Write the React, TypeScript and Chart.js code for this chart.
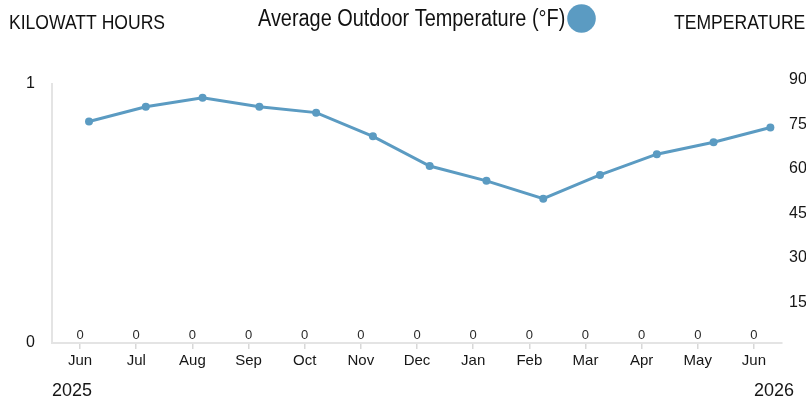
import React, { useEffect, useRef } from "react";
import { Chart, registerables } from "chart.js";

Chart.register(...registerables);

const categories = ["Jun", "Jul", "Aug", "Sep", "Oct", "Nov", "Dec", "Jan", "Feb", "Mar", "Apr", "May", "Jun"];
const kwhValues = [0, 0, 0, 0, 0, 0, 0, 0, 0, 0, 0, 0, 0];
const avgTempF = [76, 81, 84, 81, 79, 71, 61, 56, 50, 58, 65, 69, 74];
const kwhTicks = [0, 1];
const tempTicks = [15, 30, 45, 60, 75, 90];
const yearLabels = ["2025", "2026"];
const leftTitle = "KILOWATT HOURS";
const rightTitle = "TEMPERATURE";
const legendLabel = "Average Outdoor Temperature (°F)";

const LINE_COLOR = "rgb(91,155,194)";
const TEXT_COLOR = "#161616";
const AXIS_COLOR = "#e4e4e4";
const FONT = '"Liberation Sans", Arial, sans-serif';

function drawScaled(ctx: CanvasRenderingContext2D, text: string, x: number, y: number, size: number, sx: number) {
  ctx.save();
  ctx.translate(x, y);
  ctx.scale(sx, 1);
  ctx.font = `${size}px ${FONT}`;
  ctx.fillStyle = "#111";
  ctx.textAlign = "left";
  ctx.textBaseline = "alphabetic";
  ctx.fillText(text, 0, 0);
  ctx.restore();
}

const extrasPlugin = {
  id: "extras",
  afterDraw(chart: any) {
    const ctx: CanvasRenderingContext2D = chart.ctx;
    const area = chart.chartArea;
    ctx.save();
    // value labels above the (zero) bars
    const meta = chart.getDatasetMeta(0);
    ctx.font = `13px ${FONT}`;
    ctx.fillStyle = "#2a2a2a";
    ctx.textAlign = "center";
    ctx.textBaseline = "middle";
    meta.data.forEach((el: any, i: number) => {
      ctx.fillText(String(kwhValues[i]), el.x, el.y - 7.5);
    });
    // year labels
    ctx.font = `18px ${FONT}`;
    ctx.fillStyle = TEXT_COLOR;
    ctx.textAlign = "left";
    ctx.fillText(yearLabels[0], area.left, 391);
    ctx.textAlign = "right";
    ctx.fillText(yearLabels[1], area.right + 12, 391);
    ctx.restore();

    // header titles
    drawScaled(ctx, leftTitle, 9, 29, 19.5, 0.9);
    drawScaled(ctx, rightTitle, 674, 29, 19.5, 0.9);
    drawScaled(ctx, legendLabel, 258, 26, 23, 0.865);
    ctx.save();
    ctx.beginPath();
    ctx.arc(581.5, 18.5, 14.3, 0, Math.PI * 2);
    ctx.fillStyle = LINE_COLOR;
    ctx.fill();
    ctx.restore();
  },
};

export default function App() {
  const ref = useRef<HTMLCanvasElement | null>(null);

  useEffect(() => {
    if (!ref.current) return;
    const chart = new Chart(ref.current, {
      type: "bar",
      data: {
        labels: categories,
        datasets: [
          {
            type: "bar",
            label: "Kilowatt Hours",
            data: kwhValues,
            xAxisID: "x",
            yAxisID: "y",
            grouped: false,
            backgroundColor: LINE_COLOR,
          } as any,
          {
            type: "line",
            label: legendLabel,
            data: avgTempF.map((t, i) => ({ x: i, y: t })),
            xAxisID: "x2",
            yAxisID: "y2",
            borderColor: LINE_COLOR,
            backgroundColor: LINE_COLOR,
            borderWidth: 3,
            pointRadius: 4,
            pointBorderWidth: 0,
            tension: 0,
            fill: false,
          } as any,
        ],
      },
      options: {
        responsive: false,
        animation: false,
        devicePixelRatio: 1,
        events: [],
        layout: { padding: { top: 84, left: 0, right: 0, bottom: 0 } },
        plugins: {
          legend: { display: false },
          tooltip: { enabled: false },
          title: { display: false },
        },
        scales: {
          x: {
            type: "category",
            offset: true,
            grid: {
              display: true,
              drawOnChartArea: false,
              drawTicks: true,
              tickLength: 6,
              color: "#d8d8d8",
              lineWidth: 1.5,
              offset: false,
            },
            border: { display: true, color: AXIS_COLOR, width: 2 },
            ticks: {
              color: TEXT_COLOR,
              font: { size: 15, family: FONT },
              padding: 3,
              maxRotation: 0,
              autoSkip: false,
            },
            afterFit: (s: any) => {
              s.height = 59;
            },
          },
          x2: {
            type: "linear",
            display: false,
            offset: false,
            bounds: "data",
            min: -0.652,
            max: 12.205,
          },
          y: {
            type: "linear",
            position: "left",
            min: 0,
            max: 1,
            grid: { display: false, drawTicks: false },
            border: { display: true, color: AXIS_COLOR, width: 2 },
            ticks: {
              color: TEXT_COLOR,
              font: { size: 16, family: FONT },
              padding: 17,
            },
            afterBuildTicks: (s: any) => {
              s.ticks = kwhTicks.map((v) => ({ value: v }));
            },
            afterFit: (s: any) => {
              s.width = 52;
            },
          },
          y2: {
            type: "linear",
            position: "right",
            min: 1.35,
            max: 88.65,
            grid: { display: false, drawTicks: false },
            border: { display: false },
            ticks: {
              color: TEXT_COLOR,
              font: { size: 16, family: FONT },
              padding: 7,
              autoSkip: false,
            },
            afterBuildTicks: (s: any) => {
              s.ticks = tempTicks.map((v) => ({ value: v }));
            },
            afterFit: (s: any) => {
              s.width = 24;
            },
          },
        },
      } as any,
      plugins: [extrasPlugin],
    });
    return () => chart.destroy();
  }, []);

  return (
    <div style={{ position: "fixed", left: 0, top: 0, width: 806, height: 402, background: "#fff" }}>
      <canvas ref={ref} width={806} height={402} style={{ display: "block", width: 806, height: 402 }} />
    </div>
  );
}
